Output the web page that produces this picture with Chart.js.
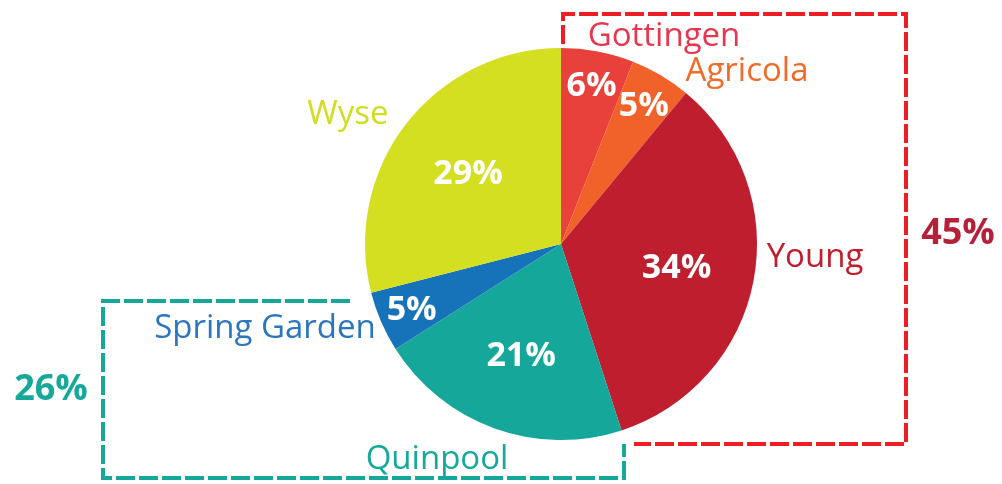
<!DOCTYPE html>
<html>
<head>
<meta charset="utf-8">
<script src="https://cdn.jsdelivr.net/npm/chart.js@4"></script>
<style>
  html, body { margin: 0; padding: 0; background: #fff; }
  #wrap { width: 1002px; height: 484px; position: relative; }
</style>
</head>
<body>
<div id="wrap"><canvas id="pieChart"></canvas></div>
<script>
// data
const areas = ['Gottingen', 'Agricola', 'Young', 'Quinpool', 'Spring Garden', 'Wyse'];
const shares = [6, 5, 34, 21, 5, 29];
const sliceColors = ['#E8403A', '#F0622A', '#BE1E2E', '#15A89A', '#1672B9', '#D5DF21'];
const nameColors = ['#E8364F', '#F26A2A', '#BE1E2D', '#16A89A', '#2A76C0', '#D2DC22'];
const groupNames = ['45%', '26%'];

// where the area names sit (canvas px)
const namePos = [[664, 37], [747, 72], [815, 258], [437, 460], [265, 329], [348, 115]];

const labelPlugin = {
    id: 'labels',
    afterDatasetsDraw(chart) {
        const ctx = chart.ctx;
        const meta = chart.getDatasetMeta(0);
        ctx.save();
        ctx.textAlign = 'center';
        ctx.textBaseline = 'middle';

        // percent inside each slice
        ctx.fillStyle = '#fff';
        ctx.font = 'bold 34px "Open Sans"';
        meta.data.forEach((arc, i) => {
            const p = arc.getProps(['x', 'y', 'startAngle', 'endAngle', 'outerRadius'], true);
            const mid = (p.startAngle + p.endAngle) / 2;
            const r = p.outerRadius * (shares[i] < 10 ? 0.83 : 0.6);
            ctx.fillText(shares[i] + '%', p.x + Math.cos(mid) * r, p.y + Math.sin(mid) * r + 2);
        });

        // names outside
        ctx.font = '33px "Open Sans"';
        areas.forEach((name, i) => {
            ctx.fillStyle = nameColors[i];
            ctx.fillText(name, namePos[i][0], namePos[i][1]);
        });

        // group brackets
        ctx.lineWidth = 4;
        ctx.setLineDash([19, 4]);
        ctx.strokeStyle = '#EE1C25';
        ctx.beginPath();
        ctx.moveTo(563, 44);
        ctx.lineTo(563, 14);
        ctx.lineTo(906, 14);
        ctx.lineTo(906, 444);
        ctx.lineTo(634, 444);
        ctx.stroke();

        ctx.strokeStyle = '#15A89A';
        ctx.beginPath();
        ctx.moveTo(350, 301);
        ctx.lineTo(103, 301);
        ctx.lineTo(103, 478);
        ctx.lineTo(624, 478);
        ctx.lineTo(624, 444);
        ctx.stroke();
        ctx.setLineDash([]);

        ctx.font = 'bold 36px "Open Sans"';
        ctx.fillStyle = '#B5213A';
        ctx.fillText(groupNames[0], 958, 234);
        ctx.fillStyle = '#16A89A';
        ctx.fillText(groupNames[1], 51, 390);
        ctx.restore();
    }
};

new Chart(document.getElementById('pieChart'), {
    type: 'pie',
    data: {
        labels: areas,
        datasets: [{
            data: shares,
            backgroundColor: sliceColors,
            borderWidth: 0
        }]
    },
    options: {
        responsive: true,
        maintainAspectRatio: false,
        animation: false,
        layout: {
            padding: { top: 48, bottom: 44, left: 365, right: 245 }
        },
        plugins: {
            legend: { display: false },
            tooltip: { enabled: false }
        }
    },
    plugins: [labelPlugin]
});
</script>
</body>
</html>
